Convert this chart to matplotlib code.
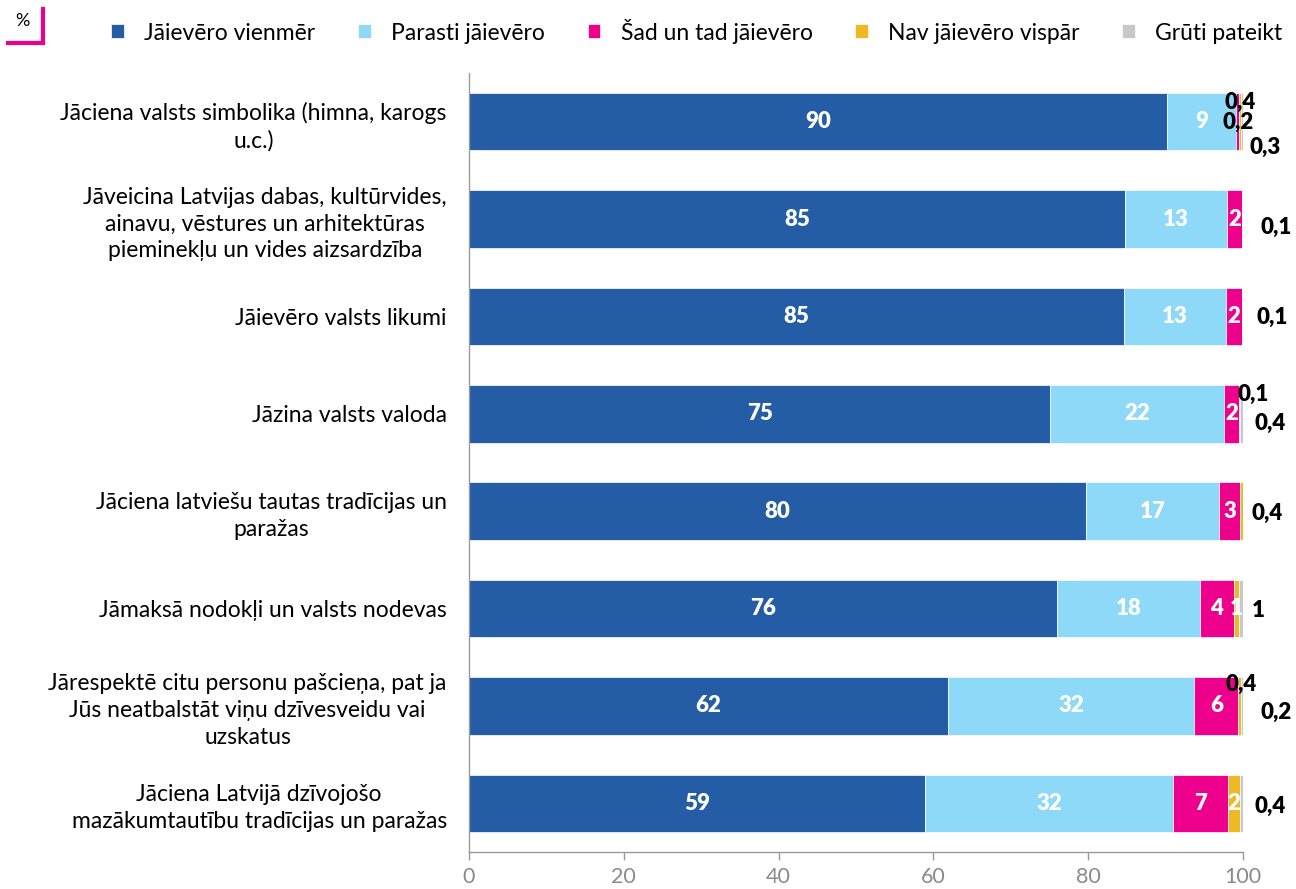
import matplotlib
matplotlib.use("Agg")
import matplotlib.pyplot as plt
from matplotlib.lines import Line2D
import numpy as np

plt.rcParams['font.family'] = ['Lato', 'DejaVu Sans']

categories = [
    "Jāciena valsts simbolika (himna, karogs\nu.c.)",
    "Jāveicina Latvijas dabas, kultūrvides,\nainavu, vēstures un arhitektūras\npieminekļu un vides aizsardzība",
    "Jāievēro valsts likumi",
    "Jāzina valsts valoda",
    "Jāciena latviešu tautas tradīcijas un\nparažas",
    "Jāmaksā nodokļi un valsts nodevas",
    "Jārespektē citu personu pašcieņa, pat ja\nJūs neatbalstāt viņu dzīvesveidu vai\nuzskatus",
    "Jāciena Latvijā dzīvojošo\nmazākumtautību tradīcijas un paražas",
]
series_names = ["Jāievēro vienmēr", "Parasti jāievēro", "Šad un tad jāievēro",
                "Nav jāievēro vispār", "Grūti pateikt"]
vienmer = [90.2, 84.8, 84.6, 75.1, 79.7, 76.0, 61.9, 58.9]
parasti = [8.9, 13.1, 13.2, 22.4, 17.2, 18.4, 31.8, 32.1]
sad_un_tad = [0.4, 2.0, 2.1, 2.0, 2.7, 4.4, 5.7, 7.1]
nav = [0.2, 0.0, 0.0, 0.1, 0.4, 0.7, 0.4, 1.5]
gruti = [0.3, 0.1, 0.1, 0.4, 0.0, 0.5, 0.2, 0.4]
x_ticks = [0, 20, 40, 60, 80, 100]

colors = ["#245CA6", "#8ED8F8", "#EC008C", "#F0B823", "#C8C8CA"]
series = [vienmer, parasti, sad_un_tad, nav, gruti]

W, H = 1296, 889
fig = plt.figure(figsize=(W / 100, H / 100), dpi=100)
ax = fig.add_axes([469 / W, 1 - 852 / H, (1243 - 469) / W, (852 - 73) / H])

y = np.arange(len(categories))
left = np.zeros(len(categories))
bars = []
for vals, col, name in zip(series, colors, series_names):
    b = ax.barh(y, vals, left=left, height=0.59, color=col, edgecolor='white',
                linewidth=0.5, label=name)
    bars.append(b)
    left = left + np.array(vals)

def fmt(v):
    if v < 0.5:
        return f"{v:.1f}".replace('.', ',')
    return str(int(v + 0.5))

# outside label offsets in pixels (dx right, dy down) relative to bar end / row centre
outside = {
    (0, 2): (-3, -19), (0, 3): (-5, 1), (0, 4): (22, 26),
    (1, 4): (33, 8), (2, 4): (29, 1),
    (3, 3): (10, -19), (3, 4): (27, 10),
    (4, 3): (24, 2), (5, 4): (15, 2),
    (6, 3): (-2, -22), (6, 4): (33, 6),
    (7, 4): (27, 3),
}
k = 72 / 100
for i in range(len(categories)):
    start = 0.0
    for s, vals in enumerate(series):
        v = vals[i]
        if v <= 0:
            continue
        if (i, s) in outside:
            dx, dy = outside[(i, s)]
            ax.annotate(fmt(v), xy=(100, i), xytext=(dx * k, -dy * k),
                        textcoords='offset points', ha='center', va='center',
                        fontsize=16, fontweight='heavy', color='black',
                        annotation_clip=False)
        else:
            ax.text(start + v / 2, i, fmt(v), ha='center', va='center',
                    fontsize=16, fontweight='heavy', color='white')
        start += v

ax.set_xlim(0, 100)
ax.set_ylim(len(categories) - 0.5, -0.5)
ax.set_yticks(y)
ax.set_yticklabels(categories, fontsize=16.5, linespacing=1.35)
for lab in ax.get_yticklabels():
    lab.set_multialignment('center')
ax.tick_params(axis='y', length=0, pad=16)
ax.set_xticks(x_ticks)
ax.set_xticklabels([str(t) for t in x_ticks], fontsize=15.5, color='#8a8a8a')
ax.tick_params(axis='x', length=6, color='#9a9a9a', width=1, pad=5)
for sp in ['top', 'right']:
    ax.spines[sp].set_visible(False)
for sp in ['left', 'bottom']:
    ax.spines[sp].set_color('#9a9a9a')
    ax.spines[sp].set_linewidth(1)

fig.legend(handles=bars, labels=series_names, loc='center',
           bbox_to_anchor=(697 / W, 1 - 31 / H), ncol=5, frameon=False,
           fontsize=16.5, handlelength=0.55, handleheight=0.55,
           handletextpad=0.9, columnspacing=1.85)

# "%" marker
fig.text(22 / W, 1 - 21 / H, "%", fontsize=13, ha='center', va='center')
fig.add_artist(Line2D([8 / W, 43 / W, 43 / W], [1 - 43 / H, 1 - 43 / H, 1 - 9 / H],
                      transform=fig.transFigure, color="#EC008C", lw=3,
                      solid_joinstyle='miter'))

fig.savefig("out.png", dpi=100)
